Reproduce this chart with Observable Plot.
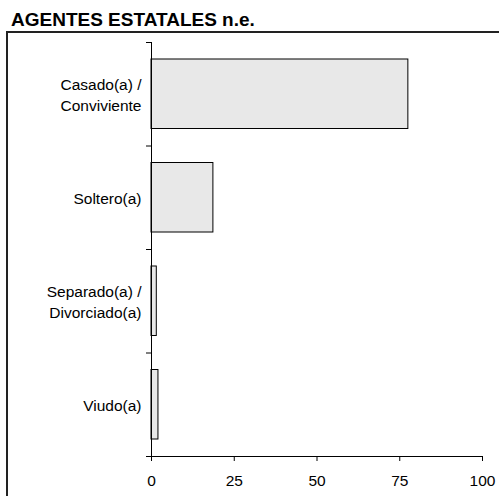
<!DOCTYPE html>
<html>
<head>
<meta charset="utf-8">
<script src="https://cdn.jsdelivr.net/npm/d3@7"></script>
<script src="https://cdn.jsdelivr.net/npm/@observablehq/plot@0.6"></script>
<style>
  html, body { margin: 0; padding: 0; background: #fff; overflow: hidden; }
  #wrap { position: relative; width: 499px; height: 496px; overflow: hidden; }
  #title { position: absolute; left: 11px; top: 10px; font: bold 19px/19px "Liberation Sans", Arial, sans-serif; color: #000; white-space: nowrap; }
  #frame { position: absolute; left: 6px; top: 31px; width: 700px; height: 700px; border-left: 2px solid #222; border-top: 2px solid #222; }
  #chart { position: absolute; left: 0; top: 0; }
</style>
</head>
<body>
<div id="wrap">
  <div id="frame"></div>
  <div id="title">AGENTES ESTATALES n.e.</div>
  <div id="chart"></div>
</div>
<script>
const categories = ["Casado(a) /\nConviviente", "Soltero(a)", "Separado(a) /\nDivorciado(a)", "Viudo(a)"];
const values = [77.6, 18.7, 1.6, 2.1];
const xTicks = [0, 25, 50, 75, 100];

const data = categories.map((c, i) => ({category: c, value: values[i], i}));

const chart = Plot.plot({
  width: 499,
  height: 496,
  marginLeft: 151,
  marginRight: 17,
  marginTop: 42,
  marginBottom: 40,
  style: {fontFamily: "'Liberation Sans', Arial, sans-serif", fontSize: "15.5px", background: "transparent", color: "#000", overflow: "visible"},
  x: {type: "linear", domain: [0, 100], label: null},
  y: {type: "linear", domain: [0, categories.length], reverse: true, label: null},
  marks: [
    Plot.rect(data, {x1: 0, x2: "value", y1: d => d.i, y2: d => d.i + 1, fill: "#e8e8e8", stroke: "#000", strokeWidth: 1, insetTop: 17, insetBottom: 17}),
    Plot.ruleX([0], {stroke: "#000", strokeWidth: 1}),
    Plot.ruleY([categories.length], {stroke: "#000", strokeWidth: 1}),
    Plot.axisY({ticks: d3.range(categories.length + 1), tickSize: 5, tickFormat: () => "", strokeWidth: 1, strokeOpacity: 1}),
    Plot.axisY({ticks: data.map(d => d.i + 0.5), tickSize: 0, tickPadding: 10, tickFormat: v => categories[Math.round(v - 0.5)], lineHeight: 1.35, fontSize: 15.5}),
    Plot.axisX({ticks: xTicks, tickSize: 5, tickPadding: 13, fontSize: 15.5, strokeOpacity: 1})
  ]
});
document.getElementById("chart").appendChild(chart);
</script>
</body>
</html>
